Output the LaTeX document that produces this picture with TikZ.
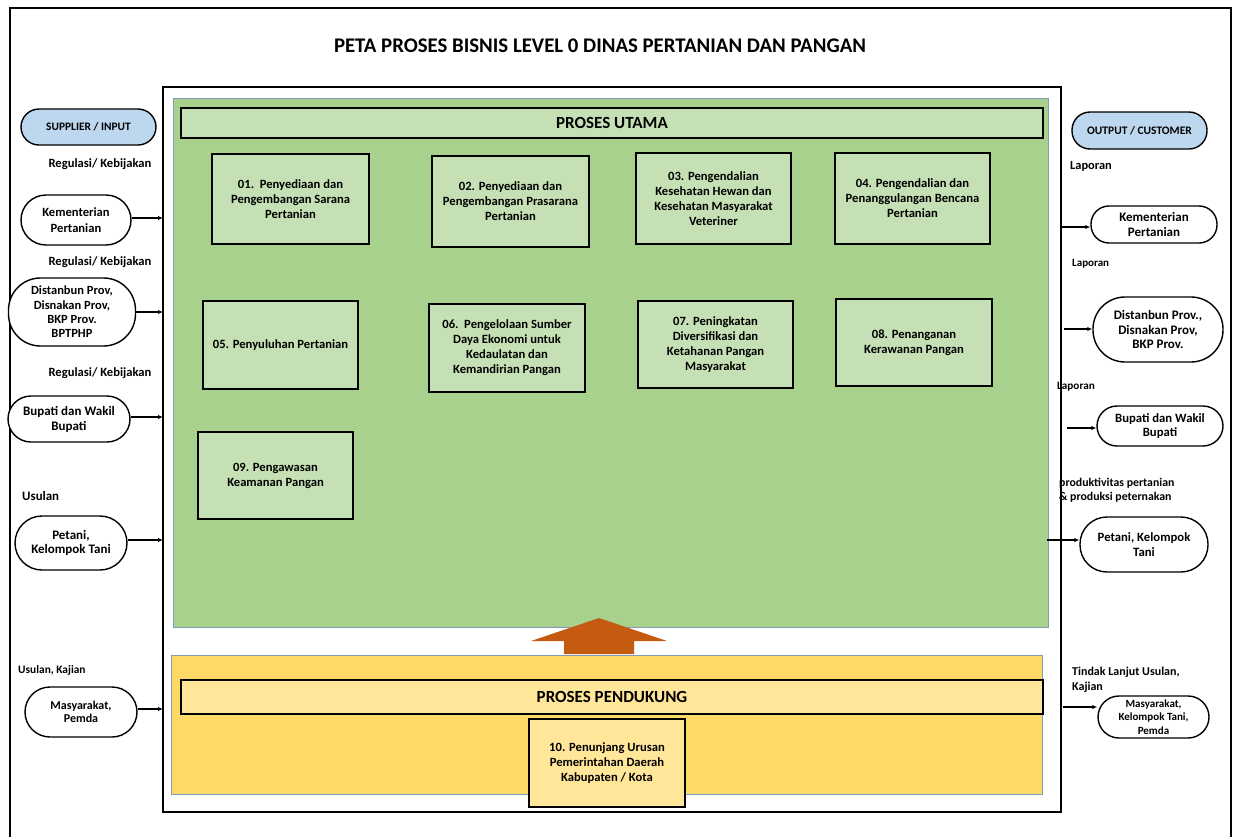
\documentclass[tikz,border=0pt]{standalone}
\usepackage{fontspec}
\setmainfont{Carlito}
\usetikzlibrary{arrows.meta}
\definecolor{grn}{HTML}{A9D18E}
\definecolor{lgrn}{HTML}{C5E0B4}
\definecolor{yel}{HTML}{FFD966}
\definecolor{lyel}{HTML}{FFE699}
\definecolor{lblue}{HTML}{BDD7EE}
\definecolor{orng}{HTML}{C55A11}
\definecolor{edgeblue}{HTML}{7F9DB9}
\newcommand\setfs[2]{\fontsize{#1}{#2}\selectfont}
\begin{document}
\begin{tikzpicture}[x=1pt,y=-1pt,
  procbox/.style={draw, line width=2.2pt, fill=lgrn, align=center, inner sep=0pt, font=\bfseries\setfs{12.6}{15}},
  barbox/.style={draw, line width=2.2pt, align=center, inner sep=0pt, font=\bfseries\setfs{17}{20}},
  stad/.style={draw, line width=1.4pt, fill=white, align=center, inner sep=0pt, font=\bfseries\setfs{12.6}{15.5}},
  lbl/.style={inner sep=0pt, align=left, font=\bfseries\setfs{12.6}{15}},
  arr/.style={line width=1.3pt, -{Latex[length=5pt,width=4.5pt]}}
]
\useasboundingbox (0,0) rectangle (1235,836);
% frames
\draw[line width=2pt] (10,860) -- (10,8) -- (1231,8) -- (1231,860);
\draw[line width=2.6pt] (163,87) rectangle (1061,812);
\node[font=\bfseries\setfs{20.8}{24}] (title) at (600,46) {PETA PROSES BISNIS LEVEL 0 DINAS PERTANIAN DAN PANGAN};
% regions
\draw[edgeblue, line width=0.8pt, fill=grn] (173,98) rectangle (1048,627);
\draw[edgeblue, line width=0.8pt, fill=yel] (171,655) rectangle (1042,794);
\node[barbox, fill=lgrn, minimum width=862, minimum height=30] (utama) at (612,123) {PROSES UTAMA};
\node[barbox, fill=lyel, minimum width=862, minimum height=34] (pendukung) at (612,697) {PROSES PENDUKUNG};
% process boxes
\node[procbox, minimum width=157, minimum height=90] (p01) at (290.5,199) {01.\ \ Penyediaan dan\\Pengembangan Sarana\\Pertanian};
\node[procbox, minimum width=157, minimum height=91] (p02) at (510.5,201.5) {02. Penyediaan dan\\Pengembangan Prasarana\\Pertanian};
\node[procbox, minimum width=155, minimum height=91] (p03) at (713.5,198.5) {03. Pengendalian\\Kesehatan Hewan dan\\Kesehatan Masyarakat\\Veteriner};
\node[procbox, minimum width=155, minimum height=91] (p04) at (912.5,198.5) {04. Pengendalian dan\\Penanggulangan Bencana\\Pertanian};
\node[procbox, minimum width=155, minimum height=88] (p05) at (280.5,345) {05. Penyuluhan Pertanian};
\node[procbox, minimum width=156, minimum height=88] (p06) at (507,348) {06.\ \ Pengelolaan Sumber\\Daya Ekonomi untuk\\Kedaulatan dan\\Kemandirian Pangan};
\node[procbox, minimum width=155, minimum height=87] (p07) at (715.5,344.5) {07. Peningkatan\\Diversifikasi dan\\Ketahanan Pangan\\Masyarakat};
\node[procbox, minimum width=156, minimum height=87] (p08) at (914,342.5) {08. Penanganan\\Kerawanan Pangan};
\node[procbox, minimum width=155, minimum height=87] (p09) at (275.5,475.5) {09. Pengawasan\\Keamanan Pangan};
\node[procbox, fill=lyel, minimum width=156, minimum height=88] (p10) at (607,763) {10. Penunjang Urusan\\Pemerintahan Daerah\\Kabupaten / Kota};
% orange arrow
\fill[orng] (599,618) -- (667,641) -- (634,641) -- (634,654) -- (564,654) -- (564,641) -- (531,641) -- cycle;
% left column
\node[stad, fill=lblue, minimum width=135, minimum height=36, rounded corners=18, font=\bfseries\setfs{11.4}{13}] (sup) at (88.5,127) {SUPPLIER / INPUT};
\node[lbl] (l1) at (100,164) {Regulasi/ Kebijakan};
\node[stad, minimum width=110, minimum height=50, rounded corners=25] (kem) at (76,220) {Kementerian\\Pertanian};
\node[lbl] (l2) at (100,262) {Regulasi/ Kebijakan};
\node[stad, minimum width=127, minimum height=68, rounded corners=32, font=\bfseries\setfs{12.5}{14.3}] (dis) at (72,312) {Distanbun Prov,\\Disnakan Prov,\\BKP Prov.\\BPTPHP};
\node[lbl] (l3) at (100,373) {Regulasi/ Kebijakan};
\node[stad, minimum width=122, minimum height=46, rounded corners=23, font=\bfseries\setfs{13}{15}] (bup) at (69,419) {Bupati dan Wakil\\Bupati};
\node[lbl, anchor=west, font=\bfseries\setfs{12.9}{15}] (l4) at (22,496) {Usulan};
\node[stad, minimum width=112, minimum height=54, rounded corners=27, font=\bfseries\setfs{13}{14.5}] (pet) at (71,543) {Petani,\\Kelompok Tani};
\node[lbl, anchor=west, font=\bfseries\setfs{11.4}{13}] (l5) at (18,670) {Usulan, Kajian};
\node[stad, minimum width=112, minimum height=50, rounded corners=25, font=\bfseries\setfs{12}{13.5}] (mas) at (81,712) {Masyarakat,\\Pemda};
\coordinate (kemT) at (163,218);
\coordinate (disT) at (163,312);
\coordinate (bupT) at (163,417);
\coordinate (petT) at (163,540);
\coordinate (masT) at (163,709);
\draw[arr] (kem.east |- kemT) -- (kemT);
\draw[arr] (dis.east |- disT) -- (disT);
\draw[arr] (bup.east |- bupT) -- (bupT);
\draw[arr] (pet.east |- petT) -- (petT);
\draw[arr] (mas.east |- masT) -- (masT);
% right column
\node[stad, fill=lblue, minimum width=135, minimum height=37, rounded corners=18, font=\bfseries\setfs{11.5}{13}] (out) at (1139.5,130.5) {OUTPUT / CUSTOMER};
\node[lbl, anchor=west, font=\bfseries\setfs{12.4}{14}] (r1) at (1070,166) {Laporan};
\node[stad, minimum width=126, minimum height=37, rounded corners=18, font=\bfseries\setfs{13}{14.3}] (rkem) at (1154,224.5) {Kementerian\\Pertanian};
\node[lbl, anchor=west, font=\bfseries\setfs{11}{13}] (r2) at (1072,264) {Laporan};
\node[stad, minimum width=130, minimum height=65, rounded corners=32, font=\bfseries\setfs{13}{14.3}] (rdis) at (1158,329.5) {Distanbun Prov.,\\Disnakan Prov,\\BKP Prov.};
\node[lbl, anchor=west, font=\bfseries\setfs{11.2}{13}] (r3) at (1057,387) {Laporan};
\node[stad, minimum width=126, minimum height=40, rounded corners=20, font=\bfseries\setfs{12.7}{14.3}] (rbup) at (1160,426) {Bupati dan Wakil\\Bupati};
\node[lbl, anchor=west, font=\bfseries\setfs{11.8}{14}] (r4) at (1059,490) {produktivitas pertanian\\\& produksi peternakan};
\node[stad, minimum width=128, minimum height=55, rounded corners=27, font=\bfseries\setfs{12.7}{14.3}] (rpet) at (1144,544.5) {Petani, Kelompok\\Tani};
\node[lbl, anchor=west, font=\bfseries\setfs{12}{15}] (r5) at (1072,679.5) {Tindak Lanjut Usulan,\\Kajian};
\node[stad, minimum width=111, minimum height=42, rounded corners=21, font=\bfseries\setfs{11}{13.5}] (rmas) at (1153.5,717) {Masyarakat,\\Kelompok Tani,\\Pemda};
\coordinate (rkemS) at (1061,227);
\coordinate (rdisS) at (1064,329);
\coordinate (rbupS) at (1067,428);
\coordinate (rpetS) at (1047,540);
\coordinate (rmasS) at (1063,707);
\draw[arr] (rkemS) -- (rkemS -| rkem.west);
\draw[arr] (rdisS) -- (rdisS -| rdis.west);
\draw[arr] (rbupS) -- (rbupS -| rbup.west);
\draw[arr] (rpetS) -- (rpetS -| rpet.west);
\draw[arr] (rmasS) -- (rmasS -| rmas.west);
\end{tikzpicture}
\end{document}
